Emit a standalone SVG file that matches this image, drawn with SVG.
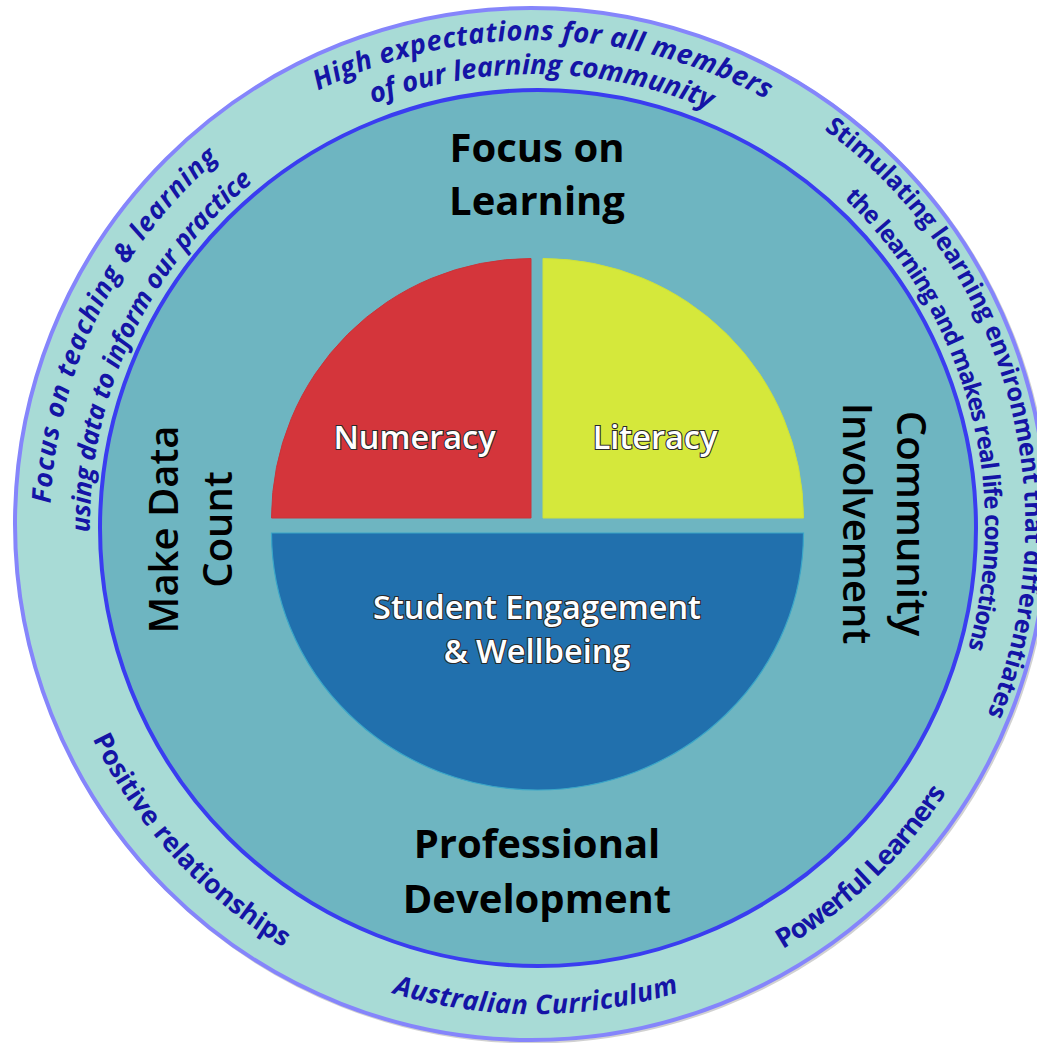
<svg xmlns="http://www.w3.org/2000/svg" width="1037" height="1043" viewBox="0 0 1037 1043">
<style>
.ring{fill:#a8dbd6;stroke:#8585fb;stroke-width:4}
.core{fill:#6eb5c1;stroke:#3a3df0;stroke-width:4}
.arc{font-family:"Open Sans","Noto Sans",sans-serif;font-weight:700;fill:#1414a6}
.it{font-style:italic}
.big{font-family:"Open Sans","Noto Sans",sans-serif;font-weight:700;font-size:40px;fill:#000;text-anchor:middle}
.side{font-family:"Open Sans","Noto Sans",sans-serif;font-weight:600;font-size:40px;fill:#000;text-anchor:middle}
.pie{font-family:"Open Sans","Noto Sans",sans-serif;font-weight:600;font-size:32.5px;fill:#fff;stroke:#2a2a2a;stroke-width:2.2;paint-order:stroke;text-anchor:middle}
</style>
<defs>
<path id="pTop1" d="M57.1,432.4 A486,486 0 0 1 1014.1,450.8" fill="none"/>
<path id="pTop2" d="M90.3,439.8 A452,452 0 0 1 980.4,455.3" fill="none"/>
<path id="pLeft1" d="M249.5,917.6 A484,484 0 0 1 667.4,60.8" fill="none"/>
<path id="pLeft2" d="M279.3,889.7 A444,444 0 0 1 648.9,97.1" fill="none"/>
<path id="pRight1" d="M486.1,37.3 A491,491 0 0 1 746.2,968.8" fill="none"/>
<path id="pRight2" d="M491.6,77.0 A451,451 0 0 1 727.5,933.4" fill="none"/>
<path id="pBottom" d="M53.7,612.4 A488,488 0 0 0 1014.9,609.1" fill="none"/>
<path id="pPos" d="M145.3,227.7 A490,490 0 0 0 797.3,939.3" fill="none"/>
<path id="pPow" d="M244.0,922.2 A491,491 0 0 0 942.0,252.9" fill="none"/>
</defs>

<g id="outer-ring">
<circle cx="532.5" cy="525.5" r="516" fill="none" stroke="#9a9a9a" stroke-opacity="0.45" stroke-width="4"/>
<circle class="ring" cx="531" cy="524" r="516"/>
</g>

<g id="inner-circle">
<circle class="core" cx="538" cy="528" r="438"/>
</g>

<g id="ring-labels">
<text class="arc it" font-size="27.5"><textPath href="#pTop1" startOffset="50%" text-anchor="middle" textLength="466" lengthAdjust="spacing">High expectations for all members</textPath></text>
<text class="arc it" font-size="27.5"><textPath href="#pTop2" startOffset="50%" text-anchor="middle" textLength="345" lengthAdjust="spacing">of our learning community</textPath></text>
<text class="arc it" font-size="26.5"><textPath href="#pLeft1" startOffset="50%" text-anchor="middle" textLength="394" lengthAdjust="spacing">Focus on teaching &amp; learning</textPath></text>
<text class="arc it" font-size="26"><textPath href="#pLeft2" startOffset="50%" text-anchor="middle" textLength="400" lengthAdjust="spacing">using data to inform our practice</textPath></text>
<text class="arc" font-size="25" font-weight="600"><textPath href="#pRight1" startOffset="50%" text-anchor="middle" textLength="655" lengthAdjust="spacing">Stimulating learning environment that differentiates</textPath></text>
<text class="arc" font-size="24" font-weight="600"><textPath href="#pRight2" startOffset="50%" text-anchor="middle" textLength="491" lengthAdjust="spacing">the learning and makes real life connections</textPath></text>
<text class="arc it" font-size="27"><textPath href="#pBottom" startOffset="50%" text-anchor="middle" textLength="291" lengthAdjust="spacing">Australian Curriculum</textPath></text>
<text class="arc" font-size="26.5" font-weight="600"><textPath href="#pPos" startOffset="50%" text-anchor="middle" textLength="287" lengthAdjust="spacing">Positive relationships</textPath></text>
<text class="arc" font-size="27" font-weight="600"><textPath href="#pPow" startOffset="50%" text-anchor="middle" textLength="229" lengthAdjust="spacing">Powerful Learners</textPath></text>
</g>

<g id="focus-on-learning">
<text class="big"><tspan x="537" y="162">Focus on</tspan><tspan x="537" y="215">Learning</tspan></text>
</g>

<g id="professional-development">
<text class="big"><tspan x="537" y="858">Professional</tspan><tspan x="537" y="913">Development</tspan></text>
</g>

<g id="make-data-count">
<text class="side" transform="translate(205,529.5) rotate(-90)"><tspan x="0" y="-27">Make Data</tspan><tspan x="0" y="27">Count</tspan></text>
</g>

<g id="community-involvement">
<text class="side" transform="translate(870,523.5) rotate(90)"><tspan x="0" y="-27">Community</tspan><tspan x="0" y="27">Involvement</tspan></text>
</g>

<g id="numeracy">
<path d="M531,518 L271.5,518 A259.5,259.5 0 0 1 531,258.5 Z" fill="#d4353b" stroke="#c9343a" stroke-width="1"/>
<text class="pie" x="414.5" y="449">Numeracy</text>
</g>

<g id="literacy">
<path d="M543,518 L803.5,518 A260.5,259.5 0 0 0 543,258.5 Z" fill="#d5e83b" stroke="#cde23a" stroke-width="1"/>
<text class="pie" x="655" y="449">Literacy</text>
</g>

<g id="student-engagement">
<path d="M271.5,533 L803.5,533 A266,257 0 0 1 271.5,533 Z" fill="#2170ad" stroke="#3aa6c8" stroke-width="1.2"/>
<text class="pie"><tspan x="537" y="618.5">Student Engagement</tspan><tspan x="537" y="663">&amp; Wellbeing</tspan></text>
</g>

<g id="connectors"/>
</svg>
